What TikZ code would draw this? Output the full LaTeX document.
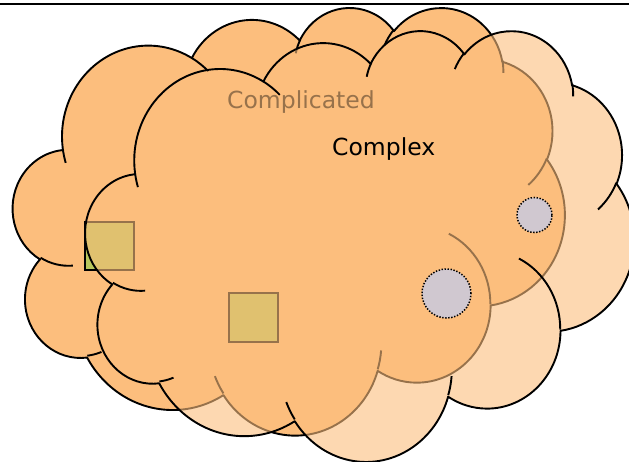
\documentclass[tikz,border=0pt]{standalone}
\usepackage{fontspec}
\newfontfamily\dvs{DejaVu Sans}
\definecolor{cloudorange}{RGB}{252,190,125}
\definecolor{olivebox}{RGB}{184,198,92}
\definecolor{dotgrey}{RGB}{208,200,208}
% parametric angles of the preset cloud arcs (visual -> parametric)
\newcommand\cldang[5]{%
  \pgfmathparse{atan2((#2)*sin(#4),(#3)*cos(#4))}\edef\cldS{\pgfmathresult}%
  \pgfmathparse{atan2((#2)*sin((#4)+(#5)),(#3)*cos((#4)+(#5)))}\edef\cldE{\pgfmathresult}%
  \pgfmathparse{\cldS+mod(\cldE-\cldS+720,360)}\edef\cldE{\pgfmathresult}%
  \expandafter\xdef\csname #1s\endcsname{\cldS}%
  \expandafter\xdef\csname #1e\endcsname{\cldE}%
}
\cldang{oA}{67.53}{91.90}{-190.4875}{123.7805}
\cldang{oB}{53.33}{72.67}{-144.1024}{89.9452}
\cldang{oC}{43.65}{59.45}{-145.8079}{99.7230}
\cldang{oD}{48.57}{65.95}{-130.9861}{117.2417}
\cldang{oE}{53.33}{72.73}{-78.7089}{109.0269}
\cldang{oF}{67.75}{92.20}{-46.2673}{130.2690}
\cldang{oG}{57.85}{78.67}{0.6250}{114.0333}
\cldang{oH}{67.52}{92.15}{22.4516}{115.1726}
\cldang{oI}{77.20}{105.43}{66.2426}{75.7110}
\cldang{oJ}{43.60}{59.18}{-274.9421}{146.7356}
\cldang{oK}{43.45}{59.45}{-246.8285}{152.5189}
\cldang{iA}{43.45}{59.45}{86.7420}{26.4295}
\cldang{iB}{43.60}{59.18}{73.6105}{11.4475}
\cldang{iC}{67.52}{92.15}{137.6242}{14.0811}
\cldang{iD}{67.52}{92.15}{6.4533}{15.9984}
\cldang{iE}{57.85}{78.67}{-70.2924}{70.9174}
\cldang{iF}{53.33}{72.73}{30.3180}{27.7515}
\cldang{iG}{48.57}{65.95}{-13.7443}{14.8589}
\cldang{iH}{48.57}{65.95}{-149.1815}{18.1954}
\cldang{iI}{43.65}{59.45}{-163.4943}{17.6864}
\cldang{iJ}{67.53}{91.90}{-66.7070}{12.3194}
\cldang{iK}{67.53}{91.90}{157.6544}{11.8582}
\tikzset{
  cloudoutline/.style={insert path={(39.00,143.70)
    arc[start angle=\oAs,end angle=\oAe,x radius=67.53,y radius=91.90]
    arc[start angle=\oBs,end angle=\oBe,x radius=53.33,y radius=72.67]
    arc[start angle=\oCs,end angle=\oCe,x radius=43.65,y radius=59.45]
    arc[start angle=\oDs,end angle=\oDe,x radius=48.57,y radius=65.95]
    arc[start angle=\oEs,end angle=\oEe,x radius=53.33,y radius=72.73]
    arc[start angle=\oFs,end angle=\oFe,x radius=67.75,y radius=92.20]
    arc[start angle=\oGs,end angle=\oGe,x radius=57.85,y radius=78.67]
    arc[start angle=\oHs,end angle=\oHe,x radius=67.52,y radius=92.15]
    arc[start angle=\oIs,end angle=\oIe,x radius=77.20,y radius=105.43]
    arc[start angle=\oJs,end angle=\oJe,x radius=43.60,y radius=59.18]
    arc[start angle=\oKs,end angle=\oKe,x radius=43.45,y radius=59.45] -- cycle}},
  cloudinner/.style={insert path={
    (46.93,261.77) arc[start angle=\iAs,end angle=\iAe,x radius=43.45,y radius=59.45]
    (69.28,348.99) arc[start angle=\iBs,end angle=\iBe,x radius=43.60,y radius=59.18]
    (164.78,390.90) arc[start angle=\iCs,end angle=\iCe,x radius=67.52,y radius=92.15]
    (288.27,347.51) arc[start angle=\iDs,end angle=\iDe,x radius=67.52,y radius=92.15]
    (341.29,229.54) arc[start angle=\iEs,end angle=\iEe,x radius=57.85,y radius=78.67]
    (417.98,153.54) arc[start angle=\iFs,end angle=\iFe,x radius=53.33,y radius=72.73]
    (383.24,54.26) arc[start angle=\iGs,end angle=\iGe,x radius=48.57,y radius=65.95]
    (290.78,39.52) arc[start angle=\iHs,end angle=\iHe,x radius=48.57,y radius=65.95]
    (221.41,47.20) arc[start angle=\iIs,end angle=\iIe,x radius=43.65,y radius=59.45]
    (140.00,51.92) arc[start angle=\iJs,end angle=\iJe,x radius=67.53,y radius=91.90]
    (41.27,157.89) arc[start angle=\iKs,end angle=\iKe,x radius=67.53,y radius=91.90]}},
  cloudline/.style={draw=black,line width=1.9pt,line join=round},
  boxstyle/.style={fill=olivebox,draw=black,line width=1.9pt},
  dotcircle/.style={fill=dotgrey,draw=black,line width=1.5pt,dash pattern=on 1.4pt off 1.6pt},
  cloudtext/.style={anchor=base west,inner sep=0pt,font=\dvs\fontsize{23.5}{28}\selectfont}
}
\begin{document}
\begin{tikzpicture}
\useasboundingbox (0pt,0pt) rectangle (629pt,-462pt);
\clip (0pt,0pt) rectangle (629pt,-462pt);
\fill[white] (0pt,0pt) rectangle (629pt,-462pt);
% top rule
\draw[line width=2.4pt] (0pt,-4.2pt) -- (629pt,-4.2pt);
% back cloud (Complicated)
\begin{scope}[shift={(13pt,-6.6pt)},x={(1.277pt,0pt)},y={(0pt,-0.9895pt)}]
  \fill[cloudorange,cloudoutline];
  \draw[cloudline,cloudoutline];
  \draw[cloudline,cloudinner];
\end{scope}
% squares
\fill[boxstyle] (85pt,-221.7pt) rectangle (134pt,-270pt);
\fill[boxstyle] (229pt,-293pt) rectangle (278pt,-342pt);
\node[cloudtext,text=black] (complicated) at (227pt,-108.3pt) {Complicated};
% front cloud (Complex), semi-transparent texture
\begin{scope}[shift={(85.5pt,-29.7pt)},x={(1.270pt,0pt)},y={(0pt,-0.997pt)}]
  \fill[cloudorange,fill opacity=0.6,cloudoutline];
  \draw[cloudline,cloudoutline];
  \draw[cloudline,cloudinner];
\end{scope}
\node[cloudtext,text=black] (complex) at (332pt,-156pt) {Complex};
% circles
\draw[dotcircle] (534.5pt,-215pt) circle[radius=17.5pt];
\draw[dotcircle] (446.5pt,-293.5pt) circle[radius=24.5pt];
\end{tikzpicture}
\end{document}
